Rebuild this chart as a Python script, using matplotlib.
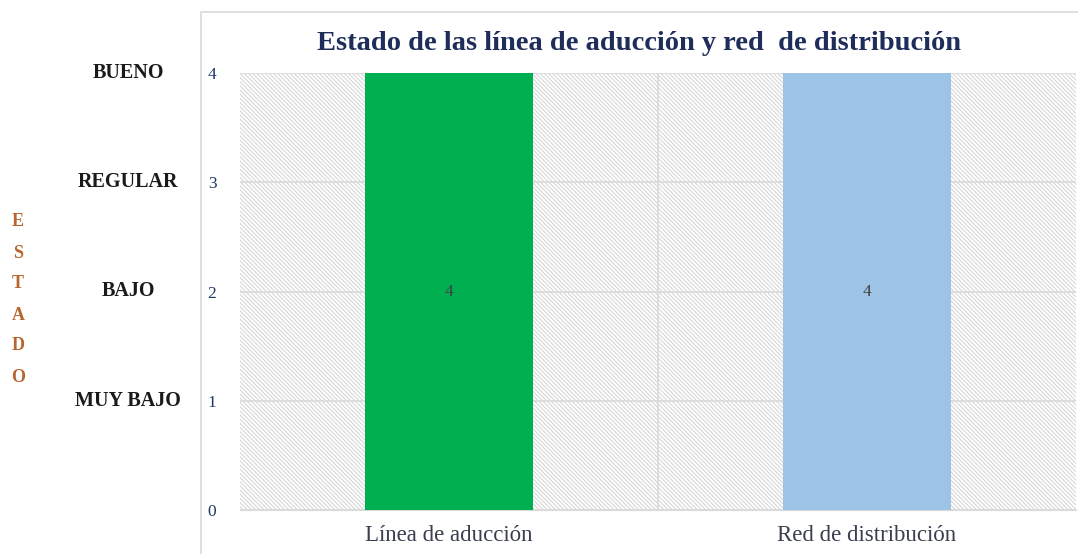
import matplotlib.pyplot as plt
from matplotlib.patches import Rectangle

categorias = ["Línea de aducción", "Red de distribución"]
valores = [4, 4]
colores = ["#00B050", "#9DC3E6"]
niveles = ["MUY BAJO", "BAJO", "REGULAR", "BUENO"]
niveles_pos = [1, 2, 3, 4]
titulo = "Estado de las línea de aducción y red  de distribución"

plt.rcParams['font.family'] = ['Liberation Serif', 'DejaVu Serif']
plt.rcParams['hatch.linewidth'] = 0.7

fig = plt.figure(figsize=(10.78, 5.54), dpi=100)
# marco del grafico
fig.patches.append(Rectangle((201 / 1078, -0.1), 1.0, 1 - 12 / 554 + 0.1,
                             transform=fig.transFigure, fill=False,
                             edgecolor="#D9D9D9", linewidth=1.2))

ax = fig.add_axes([240 / 1078, 1 - 510 / 554, 836 / 1078, 437 / 554])
x = list(range(len(categorias)))
ax.set_xlim(-0.5, len(categorias) - 0.5)
ax.set_ylim(0, 4)

# fondo rayado
ax.add_patch(Rectangle((0, 0), 1, 1, transform=ax.transAxes, facecolor="white",
                       edgecolor="#D2D2D2", hatch="\\" * 8, linewidth=0, zorder=0))

ax.set_yticks([0, 1, 2, 3, 4])
ax.set_xticks([0.5], minor=True)
ax.grid(axis="y", which="major", color="#D9D9D9", linewidth=1.2, zorder=1)
ax.grid(axis="x", which="minor", color="#D9D9D9", linewidth=1.2, zorder=1)
ax.set_axisbelow(True)

bars = ax.bar(x, valores, width=0.4, color=colores, zorder=3)
for b, v in zip(bars, valores):
    ax.text(b.get_x() + b.get_width() / 2, v / 2, str(v), ha="center", va="center",
            fontsize=12.5, color="#404040", zorder=4)

for s in ["top", "right", "left"]:
    ax.spines[s].set_visible(False)
ax.spines["bottom"].set_color("#D9D9D9")
ax.tick_params(axis="both", which="both", length=0)
ax.tick_params(axis="y", labelsize=12.5, labelcolor="#1F3864", pad=17)
ax.set_xticks(x)
ax.set_xticklabels(categorias, fontsize=16.5, color="#3A3F4F")
ax.tick_params(axis="x", pad=11)

fig.text(639 / 1078, 1 - 44 / 554, titulo, ha="center", va="center",
         fontsize=20.5, fontweight="bold", color="#1F2D5A")

for n, p in zip(niveles, niveles_pos):
    fy = ax.transData.transform((0, p))[1] / fig.dpi / 5.54
    fig.text(128 / 1078, fy, n, ha="center", va="center", fontsize=14.5,
             fontweight="bold", color="#1A1A1A")

for i, letra in enumerate("ESTADO"):
    fig.text(18 / 1078, 1 - (222 + i * 31) / 554, letra, ha="center", va="center",
             fontsize=13, fontweight="bold", color="#B8652F")

fig.savefig("out.png", dpi=100)
